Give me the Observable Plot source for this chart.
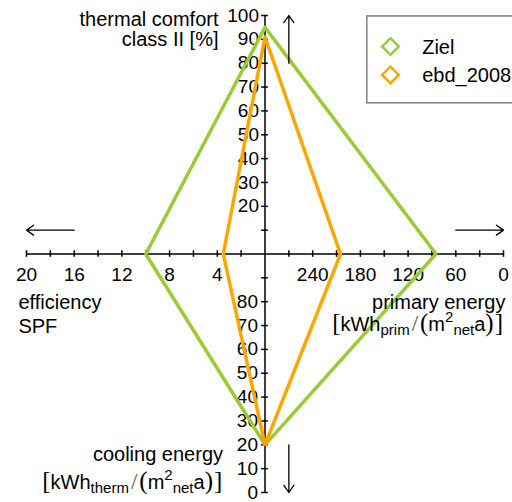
<!DOCTYPE html>
<html><head><meta charset="utf-8">
<script src="https://cdn.jsdelivr.net/npm/d3@7"></script>
<script src="https://cdn.jsdelivr.net/npm/@observablehq/plot@0.6"></script>
<style>body{margin:0;background:#fff}</style>
</head><body><div id="chart"></div>
<script>
// ---- data ----
const seriesNames = ["Ziel", "ebd_2008"];
const seriesColors = ["#99cc33", "#ffa500"];
// axis order: thermal comfort (up), primary energy (right), cooling energy (down), efficiency SPF (left)
const zielValues = [95, 85, 20, 10];
const ebdValues = [91, 205, 20, 3.5];

const comfortTicks = [10, 20, 30, 40, 50, 60, 70, 80, 90, 100];
const comfortLabels = [20, 30, 40, 50, 60, 70, 80, 90, 100];
const coolingTicks = [0, 10, 20, 30, 40, 50, 60, 70, 80, 90];
const coolingLabels = [0, 10, 20, 30, 40, 50, 60, 70, 80];
const spfTicks = [2, 4, 6, 8, 10, 12, 14, 16, 18, 20];
const spfLabels = [20, 16, 12, 8, 4];
const primaryTicks = [0, 30, 60, 90, 120, 150, 180, 210, 240, 270];
const primaryLabels = [240, 180, 120, 60, 0];

// ---- axis transforms (value -> radial unit position, 0..10) ----
const comfortY = v => v / 10;            // 0..100 upward
const primaryX = v => (300 - v) / 30;    // 300 at centre .. 0 at right
const coolingY = v => -(100 - v) / 10;   // 100 at centre .. 0 at bottom
const spfX = v => -v / 2;                // 0 at centre .. 20 at left

function polygon(name, vals) {
  const pts = [
    {x: 0, y: comfortY(vals[0])},
    {x: primaryX(vals[1]), y: 0},
    {x: 0, y: coolingY(vals[2])},
    {x: spfX(vals[3]), y: 0}
  ];
  pts.push(pts[0]);
  return pts.map(p => ({...p, series: name}));
}
const lines = [...polygon(seriesNames[0], zielValues), ...polygon(seriesNames[1], ebdValues)];

const arrows = [
  {x1: 1, y1: 8, x2: 1, y2: 10},
  {x1: -8, y1: 1, x2: -10, y2: 1},
  {x1: 8, y1: 1, x2: 10, y2: 1},
  {x1: 1, y1: -8, x2: 1, y2: -10}
];

const sans = "Liberation Sans, Arial, sans-serif";
const serif = "Liberation Serif, Times New Roman, serif";

const titlesEnd = [
  {x: -1.95, y: 9.58, text: "thermal comfort"},
  {x: -1.95, y: 8.74, text: "class II [%]"},
  {x: 10.08, y: -2.29, text: "primary energy"},
  {x: -1.76, y: -8.66, text: "cooling energy"}
];
const titlesStart = [
  {x: -10.34, y: -2.29, text: "efficiency"},
  {x: -10.34, y: -3.33, text: "SPF"}
];
const unitPrim = "UNIT_PRIM";
const unitTherm = "UNIT_THERM";
const unitLabels = [
  {x: 9.98, y: -3.21, text: unitPrim},
  {x: -1.79, y: -9.85, text: unitTherm}
];

const legendItems = seriesNames.map((s, i) => ({series: s, color: seriesColors[i], x: 5.26, y: [8.7, 7.51][i], tx: 6.59, ty: [8.38, 7.2][i]}));

const tickLen = 0.14;
const chart = Plot.plot({
  width: 512,
  height: 502,
  marginLeft: 26, marginRight: 9, marginTop: 15, marginBottom: 10,
  x: {domain: [-10, 10], axis: null},
  y: {domain: [-10, 10], axis: null},
  style: {fontFamily: sans, background: "white", color: "black"},
  marks: [
    Plot.ruleX([0], {y1: -10, y2: 10, stroke: "black", strokeWidth: 1.5}),
    Plot.ruleY([0], {x1: -10, x2: 10, stroke: "black", strokeWidth: 1.5}),
    Plot.ruleY(comfortTicks, {y: comfortY, x1: -tickLen, x2: tickLen, stroke: "black", strokeWidth: 1.5}),
    Plot.ruleY(coolingTicks, {y: coolingY, x1: -tickLen, x2: tickLen, stroke: "black", strokeWidth: 1.5}),
    Plot.ruleX(spfTicks, {x: spfX, y1: -tickLen, y2: tickLen, stroke: "black", strokeWidth: 1.5}),
    Plot.ruleX(primaryTicks, {x: primaryX, y1: -tickLen, y2: tickLen, stroke: "black", strokeWidth: 1.5}),
    Plot.text(comfortLabels, {x: 0, y: comfortY, text: d => String(d), textAnchor: "end", dx: -6, fontSize: 19}),
    Plot.text(coolingLabels, {x: 0, y: coolingY, text: d => String(d), textAnchor: "end", dx: -7, fontSize: 19}),
    Plot.text(spfLabels, {x: spfX, y: 0, text: d => String(d), lineAnchor: "top", dy: 13, fontSize: 19}),
    Plot.text(primaryLabels, {x: primaryX, y: 0, text: d => String(d), lineAnchor: "top", dy: 13, fontSize: 19}),
    Plot.line(lines, {x: "x", y: "y", z: "series", stroke: d => seriesColors[seriesNames.indexOf(d.series)], strokeWidth: 3.5, strokeLinejoin: "miter"}),
    Plot.arrow(arrows, {x1: "x1", y1: "y1", x2: "x2", y2: "y2", stroke: "black", strokeWidth: 1.3, headLength: 10, headAngle: 70}),
    Plot.text(titlesEnd, {x: "x", y: "y", text: "text", textAnchor: "end", lineAnchor: "bottom", fontSize: 20}),
    Plot.text(titlesStart, {x: "x", y: "y", text: "text", textAnchor: "start", lineAnchor: "bottom", fontSize: 20}),
    Plot.text(unitLabels, {x: "x", y: "y", text: "text", textAnchor: "end", lineAnchor: "bottom", fontSize: 20}),
    Plot.rect([0], {x1: 4.29, x2: 11, y1: 6.32, y2: 9.96, fill: "white", stroke: "#808080", strokeWidth: 1.5}),
    Plot.dot(legendItems, {x: "x", y: "y", stroke: "color", symbol: "diamond2", r: 7.5, strokeWidth: 2.5}),
    Plot.text(legendItems, {x: "tx", y: "ty", text: "series", textAnchor: "start", lineAnchor: "bottom", fontSize: 20})
  ]
});

// compose unit labels with sub/superscripts: [text, family, size, baseline offset, dx]
const unitParts = {
  [unitPrim]: [["[", serif, 25, 0, 0], ["kWh", sans, 20, 0, 0], ["prim", sans, 15, 4, 0], ["/", serif, 23, 0, 2], ["(", serif, 25, 0, 2], ["m", sans, 20, 0, 0], ["2", sans, 15, -9, 0], ["net", sans, 15, 4, 0], ["a", sans, 20, 0, 0], [")", serif, 25, 0, 0], ["]", serif, 25, 0, 1]],
  [unitTherm]: [["[", serif, 25, 0, 0], ["kWh", sans, 20, 0, 0], ["therm", sans, 15, 4, 0], ["/", serif, 23, 0, 2], ["(", serif, 25, 0, 2], ["m", sans, 20, 0, 0], ["2", sans, 15, -9, 0], ["net", sans, 15, 4, 0], ["a", sans, 20, 0, 0], [")", serif, 25, 0, 0], ["]", serif, 25, 0, 1]]
};
d3.select(chart).selectAll("text").each(function () {
  const parts = unitParts[this.textContent];
  if (!parts) return;
  this.textContent = "";
  let cur = 0;
  for (const [t, fam, size, off, dx] of parts) {
    const ts = d3.select(this).append("tspan").text(t)
      .attr("font-family", fam).attr("font-size", size)
      .attr("dy", off - cur);
    if (dx) ts.attr("dx", dx);
    if (fam === serif && t === "/") ts.attr("fill", "#555");
    cur = off;
  }
});

document.getElementById("chart").append(chart);
</script>
</body></html>
